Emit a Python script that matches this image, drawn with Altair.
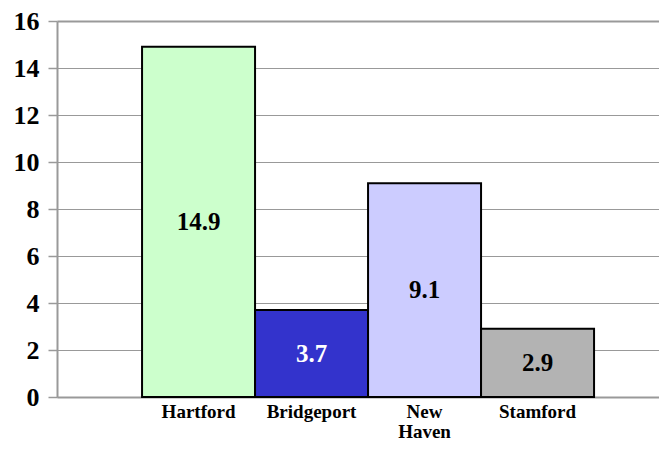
import altair as alt
import pandas as pd

cities = ["Hartford", "Bridgeport", "New Haven", "Stamford"]
values = [14.9, 3.7, 9.1, 2.9]
bar_colors = ["#CCFFCC", "#3333CC", "#CCCCFF", "#B3B3B3"]
label_colors = ["black", "white", "black", "black"]

df = pd.DataFrame({"city": cities, "value": values, "lc": label_colors})

FONT = "Liberation Serif"

x = alt.X("city:N", sort=cities, title=None,
          scale=alt.Scale(paddingInner=0, paddingOuter=0.6637, align=0.567),
          axis=alt.Axis(labelAngle=0, labelFont=FONT, labelFontWeight="bold",
                        labelFontSize=19, labelColor="black", ticks=False,
                        domainColor="#999999", domainWidth=2, labelPadding=5,
                        labelExpr="split(datum.label, ' ')", labelLineHeight=20,
                        labelBaseline="top"))

bars = alt.Chart(df).mark_bar(stroke="black", strokeWidth=2).encode(
    x=x,
    y=alt.Y("value:Q", title=None,
            scale=alt.Scale(domain=[0, 16], nice=False),
            axis=alt.Axis(values=list(range(0, 17, 2)), labelFont=FONT,
                          labelFontWeight="bold", labelFontSize=26,
                          labelColor="black", tickColor="#999999", tickSize=9,
                          tickWidth=1.5, domainColor="#999999", domainWidth=2,
                          gridColor="#999999",
                          gridWidth={"condition": {"test": "datum.value == 16", "value": 2}, "value": 1},
                          labelPadding=9)),
    color=alt.Color("city:N", scale=alt.Scale(domain=cities, range=bar_colors), legend=None),
)

text = alt.Chart(df).transform_calculate(mid="datum.value / 2").mark_text(
    font=FONT, fontWeight="bold", fontSize=25, baseline="middle"
).encode(
    x=alt.X("city:N", sort=cities),
    y=alt.Y("mid:Q"),
    text=alt.Text("value:Q", format=".1f"),
    color=alt.Color("lc:N", scale=None),
)

chart = (bars + text).properties(
    width=602, height=376,
    autosize=alt.AutoSizeParams(type="none"),
    padding={"left": 49, "top": 13, "right": 0, "bottom": 47},
).configure_view(stroke=None)

chart.save("out.html", embed_options={"renderer": "svg", "actions": False})
